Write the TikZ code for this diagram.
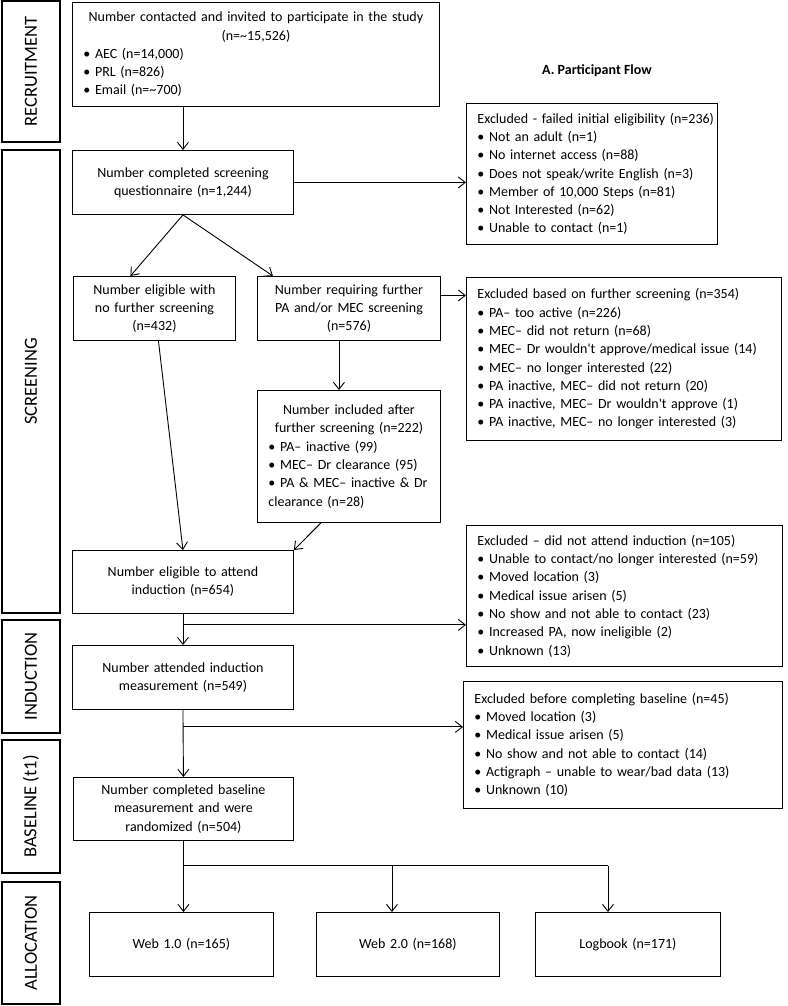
\documentclass[tikz,border=0pt]{standalone}
\usepackage{fontspec}
\setmainfont{Carlito}
\usetikzlibrary{arrows.meta}
\begin{document}
\begin{tikzpicture}[x=1pt, y=-1pt, >={Straight Barb[length=7pt,width=11pt]},
    box/.style={draw, line width=0.9pt, anchor=north west, inner xsep=11pt, inner ysep=0pt, align=center,
        font=\fontsize{14}{18.3}\selectfont},
    lbox/.style={box, align=left},
    stage/.style={draw, line width=1.1pt, rotate=90, inner sep=0pt, minimum height=58pt,
        font=\fontsize{18.5}{20}\selectfont},
    link/.style={line width=0.9pt}]
\useasboundingbox (0,0) rectangle (787,1006);

% stages on the left
\node[stage, minimum width=141pt] (sRec) at (31,71.5) {RECRUITMENT};
\node[stage, minimum width=463pt] (sScr) at (31,381.5) {SCREENING};
\node[stage, minimum width=113pt] (sInd) at (31,676.5) {INDUCTION};
\node[stage, minimum width=133pt] (sBas) at (31,806.5) {BASELINE (t1)};
\node[stage, minimum width=122pt] (sAll) at (31,943) {ALLOCATION};

\node[font=\bfseries\fontsize{14}{16}\selectfont] (title) at (597,71) {A. Participant Flow};

% main column
\node[lbox, text width=345pt, minimum height=104pt] (rec) at (72,2)
    {\centering Number contacted and invited to participate in the study\\(n=\textasciitilde15,526)\par
     \raggedright • AEC (n=14,000)\\• PRL (n=826)\\• Email (n=\textasciitilde700)};
\node[box, text width=199pt, minimum height=64pt] (scr) at (72,150)
    {Number completed screening\\questionnaire (n=1,244)};
\node[box, text width=140pt, minimum height=64pt] (nofur) at (73,276)
    {Number eligible with\\no further screening\\(n=432)};
\node[box, text width=161pt, minimum height=64pt] (furth) at (257,276)
    {Number requiring further\\PA and/or MEC screening\\(n=576)};
\node[lbox, text width=161pt, minimum height=132pt] (incl) at (257,390)
    {\centering Number included after\\further screening (n=222)\par
     \raggedright • PA– inactive (99)\\• MEC– Dr clearance (95)\\• PA \& MEC– inactive \& Dr\\clearance (n=28)};
\node[box, text width=199pt, minimum height=63pt] (elig) at (72,550)
    {Number eligible to attend\\induction (n=654)};
\node[box, text width=199pt, minimum height=64pt] (ind) at (72,645)
    {Number attended induction\\measurement (n=549)};
\node[box, text width=198pt, minimum height=63pt] (base) at (73,777)
    {Number completed baseline\\measurement and were\\randomized (n=504)};

% allocation
\node[box, text width=162pt, minimum height=64pt] (web1) at (89,912) {Web 1.0 (n=165)};
\node[box, text width=161pt, minimum height=64pt] (web2) at (316,912) {Web 2.0 (n=168)};
\node[box, text width=163pt, minimum height=64pt] (logb) at (535,912) {Logbook (n=171)};

% exclusions
\node[lbox, text width=229pt, minimum height=141pt] (exc1) at (466,103)
    {\mbox{Excluded - failed initial eligibility (n=236)}\\• Not an adult (n=1)\\• No internet access (n=88)\\
     • Does not speak/write English (n=3)\\• Member of 10,000 Steps (n=81)\\• Not Interested (n=62)\\
     • Unable to contact (n=1)};
\node[lbox, text width=293pt, minimum height=163pt] (exc2) at (466,277)
    {Excluded based on further screening (n=354)\\• PA– too active (n=226)\\• MEC– did not return (n=68)\\
     • MEC– Dr wouldn\textquotesingle t approve/medical issue (14)\\• MEC– no longer interested (22)\\
     • PA inactive, MEC– did not return (20)\\• PA inactive, MEC– Dr wouldn\textquotesingle t approve (1)\\
     • PA inactive, MEC– no longer interested (3)};
\node[lbox, text width=294pt, minimum height=141pt] (exc3) at (466,525)
    {Excluded – did not attend induction (n=105)\\• Unable to contact/no longer interested (n=59)\\
     • Moved location (3)\\• Medical issue arisen (5)\\• No show and not able to contact (23)\\
     • Increased PA, now ineligible (2)\\• Unknown (13)};
\node[lbox, text width=297pt, minimum height=127pt] (exc4) at (463,681)
    {Excluded before completing baseline (n=45)\\• Moved location (3)\\• Medical issue arisen (5)\\
     • No show and not able to contact (14)\\• Actigraph – unable to wear/bad data (13)\\• Unknown (10)};

% connectors
\draw[link,->] (scr.north |- rec.south) -- (scr.north);
\draw[link,->] (scr.east) -- (exc1.west |- scr.east);
\draw[link,->] (scr.south) -- ([xshift=-24pt]nofur.north);
\draw[link,->] (scr.south) -- ([xshift=-76pt]furth.north);
\coordinate (fo) at ([yshift=13pt]furth.east);
\draw[link,->] (fo) -- (fo -| exc2.west);
\draw[link,->] ([xshift=-10pt]furth.south) -- ([xshift=-10pt]incl.north);
\draw[link,->] ([xshift=4pt]nofur.south) -- (elig.north);
\draw[link,->] ([xshift=-28pt]incl.south) -- (elig.north east);
\coordinate (sp1) at ([yshift=-11pt]elig.south);
\draw[link,->] (elig.south) -- (ind.north);
\draw[link,->] (sp1) -- (sp1 -| exc3.west);
\coordinate (sp2) at ([yshift=-17pt]ind.south);
\draw[link,->] (ind.south) -- (base.north);
\draw[link,->] (sp2) -- (sp2 -| exc4.west);
\coordinate (sp3) at ([yshift=-25pt]base.south);
\coordinate (a2) at ([xshift=-16pt]web2.north);
\coordinate (a3) at ([xshift=-20pt]logb.north);
\draw[link] (base.south) -- (sp3) -- (sp3 -| a3);
\draw[link,->] (sp3) -- (sp3 |- web1.north);
\draw[link,->] (sp3 -| a2) -- (a2);
\draw[link,->] (sp3 -| a3) -- (a3);
\end{tikzpicture}
\end{document}
